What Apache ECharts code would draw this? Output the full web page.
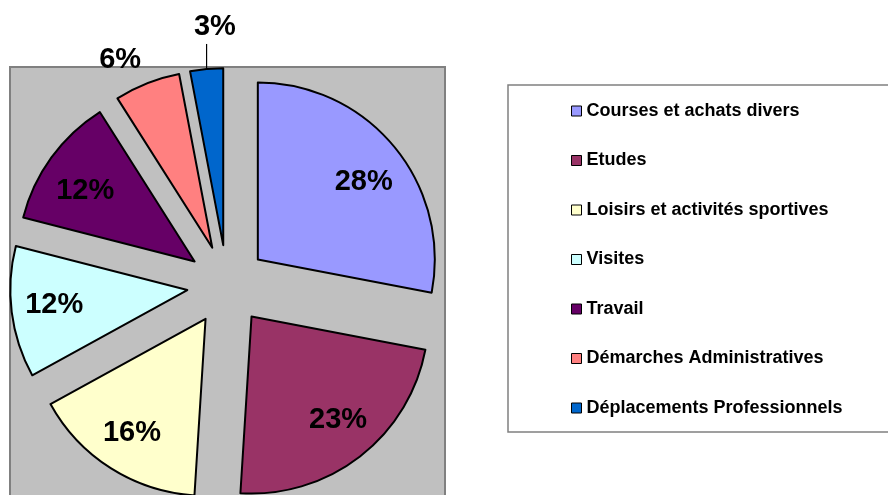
<!DOCTYPE html>
<html>
<head>
<meta charset="utf-8">
<script src="https://cdn.jsdelivr.net/npm/echarts@6/dist/echarts.min.js"></script>
<style>
  html, body { margin: 0; padding: 0; background: #ffffff; }
  #chart { width: 888px; height: 495px; }
</style>
</head>
<body>
<div id="chart"></div>
<script>
// Motifs de déplacement (part en %)
const categories = [
  'Courses et achats divers',
  'Etudes',
  'Loisirs et activités sportives',
  'Visites',
  'Travail',
  'Démarches Administratives',
  'Déplacements Professionnels'
];
const shares = [28, 23, 16, 12, 12, 6, 3];

const sliceColors = ['#9999FF', '#993366', '#FFFFCC', '#CCFFFF', '#660066', '#FF8080', '#0066CC'];

// Pie geometry and label placement (distance from centre, angular nudge in degrees)
const pieCenter = [227, 285];
const pieRadius = 177;
const explode = 40;
const labelRadius = [171, 175, 176, 174, 170, 249, 258];
const labelTurn = [2.7, -1.6, 0.3, 0.6, -2.5, -3.8, 2.7];
const leaderLen = 25;

const total = shares.reduce((a, b) => a + b, 0);
const midAngles = [];
let acc = 0;
shares.forEach(v => { midAngles.push((acc + v / 2) / total * 360); acc += v; });
const lastIdx = shares.length - 1;

const labelFont = {
  fontFamily: 'Liberation Sans, Arial, sans-serif',
  fontWeight: 'bold',
  fontSize: 29,
  color: '#000000'
};

const chart = echarts.init(document.getElementById('chart'), null, { renderer: 'canvas' });

chart.setOption({
  animation: false,
  backgroundColor: '#ffffff',
  color: sliceColors,
  graphic: [{
    type: 'rect',
    z: 0,
    shape: { x: 10, y: 67, width: 435, height: 460 },
    style: { fill: '#C0C0C0', stroke: '#808080', lineWidth: 2 }
  }],
  legend: {
    orient: 'vertical',
    left: 508,
    top: 85,
    padding: [16, 90, 14, 63],
    backgroundColor: '#ffffff',
    borderColor: '#808080',
    borderWidth: 1.5,
    borderRadius: 0,
    itemWidth: 10,
    itemHeight: 10,
    itemGap: 29.5,
    icon: 'rect',
    selectedMode: false,
    data: categories,
    itemStyle: { borderColor: '#000000', borderWidth: 1 },
    textStyle: {
      fontFamily: 'Liberation Sans, Arial, sans-serif',
      fontWeight: 'bold',
      fontSize: 18,
      lineHeight: 20,
      color: '#000000'
    }
  },
  series: [
    // Exploded slices
    {
      type: 'pie',
      name: 'slices',
      center: pieCenter,
      radius: pieRadius,
      startAngle: 90,
      clockwise: true,
      selectedMode: 'multiple',
      selectedOffset: explode,
      z: 2,
      emphasis: { disabled: true },
      itemStyle: { borderColor: '#000000', borderWidth: 2 },
      label: { show: false },
      labelLine: { show: false },
      data: categories.map((name, i) => ({ name: name, value: shares[i], selected: true }))
    },
    // Percentage labels, laid out on an invisible copy of the pie
    {
      type: 'pie',
      name: 'labels',
      center: pieCenter,
      radius: pieRadius,
      startAngle: 90,
      clockwise: true,
      silent: true,
      legendHoverLink: false,
      z: 3,
      emphasis: { disabled: true },
      itemStyle: { color: 'rgba(0,0,0,0)', borderWidth: 0 },
      avoidLabelOverlap: false,
      label: Object.assign({ show: true, position: 'inside', formatter: '{c}%' }, labelFont),
      labelLine: { show: false },
      labelLayout: function (params) {
        const k = params.dataIndex;
        const b = (midAngles[k] + labelTurn[k]) * Math.PI / 180;
        const r = labelRadius[k];
        const res = {
          x: pieCenter[0] + r * Math.sin(b),
          y: pieCenter[1] - r * Math.cos(b),
          align: 'center',
          verticalAlign: 'middle'
        };
        if (k === lastIdx) {
          const a = midAngles[k] * Math.PI / 180;
          const ax = pieCenter[0] + (explode + pieRadius) * Math.sin(a);
          const ay = pieCenter[1] - (explode + pieRadius) * Math.cos(a);
          res.labelLinePoints = [[ax, ay], [ax, ay - leaderLen], [ax, ay - leaderLen]];
        }
        return res;
      },
      data: categories.map((name, i) => ({
        name: name,
        value: shares[i],
        label: i >= lastIdx - 1 ? { position: 'outside' } : {},
        labelLine: i === lastIdx
          ? { show: true, length: 10, length2: 0, lineStyle: { color: '#000000', width: 1.2 } }
          : { show: false }
      }))
    }
  ]
});
</script>
</body>
</html>
